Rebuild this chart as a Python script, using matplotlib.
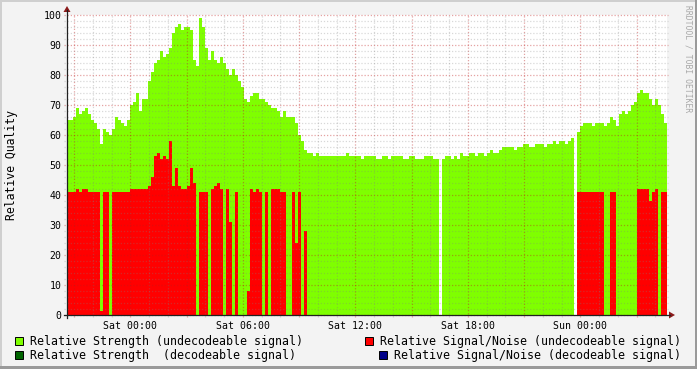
import numpy as np
import matplotlib
matplotlib.use("Agg")
import matplotlib.pyplot as plt
from matplotlib.patches import Rectangle, Polygon
from matplotlib.lines import Line2D

# time axis: hours relative to Sat 00:00, one sample every 0.16 h
START_HOUR = -3.375
STEP_HOURS = 0.16

TICK_HOURS = [0, 6, 12, 18, 24]
TICK_LABELS = ["Sat 00:00", "Sat 06:00", "Sat 12:00", "Sat 18:00", "Sun 00:00"]

strength_undecodeable = [
    65, 65, 66, 69, 67, 68, 69, 67, 65, 64,
    62, 57, 62, 61, 60, 62, 66, 65, 64, 63,
    65, 70, 71, 74, 68, 72, 72, 78, 81, 84,
    85, 88, 86, 87, 89, 94, 96, 97, 95, 96,
    96, 95, 85, 83, 99, 96, 89, 85, 88, 85,
    84, 86, 84, 82, 80, 82, 80, 78, 76, 72,
    71, 73, 74, 74, 72, 72, 71, 70, 69, 69,
    68, 66, 68, 66, 66, 66, 64, 60, 58, 55,
    54, 54, 53, 54, 53, 53, 53, 53, 53, 53,
    53, 53, 53, 54, 53, 53, 53, 53, 52, 53,
    53, 53, 53, 52, 52, 53, 53, 52, 53, 53,
    53, 53, 52, 52, 53, 53, 52, 52, 52, 53,
    53, 53, 52, 52, 0, 52, 53, 53, 52, 53,
    52, 54, 53, 53, 54, 54, 53, 54, 54, 53,
    54, 55, 54, 54, 55, 56, 56, 56, 56, 55,
    56, 56, 57, 57, 56, 56, 57, 57, 57, 56,
    57, 57, 58, 57, 58, 58, 57, 58, 59, 0,
    61, 63, 64, 64, 64, 63, 64, 64, 64, 63,
    64, 66, 65, 63, 67, 68, 67, 68, 70, 71,
    74, 75, 74, 74, 72, 70, 72, 70, 67, 64,
]

snr_undecodeable = [
    41, 41, 41, 42, 41, 42, 42, 41, 41, 41,
    41, 1.5, 41, 41, 0, 41, 41, 41, 41, 41,
    41, 42, 42, 42, 42, 42, 42, 43, 46, 53,
    54, 52, 53, 52, 58, 43, 49, 43, 42, 42,
    43, 49, 44, 0, 41, 41, 41, 0, 42, 43,
    44, 42, 0, 42, 31, 0, 41, 0, 0, 0,
    8, 42, 41, 42, 41, 0, 41, 0, 42, 42,
    42, 41, 41, 0, 0, 41, 24, 41, 0, 28,
    0, 0, 0, 0, 0, 0, 0, 0, 0, 0,
    0, 0, 0, 0, 0, 0, 0, 0, 0, 0,
    0, 0, 0, 0, 0, 0, 0, 0, 0, 0,
    0, 0, 0, 0, 0, 0, 0, 0, 0, 0,
    0, 0, 0, 0, 0, 0, 0, 0, 0, 0,
    0, 0, 0, 0, 0, 0, 0, 0, 0, 0,
    0, 0, 0, 0, 0, 0, 0, 0, 0, 0,
    0, 0, 0, 0, 0, 0, 0, 0, 0, 0,
    0, 0, 0, 0, 0, 0, 0, 0, 0, 0,
    41, 41, 41, 41, 41, 41, 41, 41, 41, 0,
    0, 41, 41, 0, 0, 0, 0, 0, 0, 0,
    42, 42, 42, 42, 38, 41, 42, 0, 41, 41,
]

W, H = 697, 369
GREEN = "#7FFF00"
RED = "#FF0000"
DARK_GREEN = "#006400"
NAVY = "#000088"
GRID = (0.5, 0.5, 0.5, 0.3)
MGRID = (0.75, 0.1, 0.1, 0.4)
ARROW = "#8B1A1A"
MONO = "DejaVu Sans Mono"


def fx(px):
    return px / W


def fy(py):
    return 1 - py / H


fig = plt.figure(figsize=(W / 100, H / 100), dpi=100, facecolor="#F3F3F3")

# 3d-ish frame around the canvas
frame = [
    ((0, fy(2)), 1, 2 / H, "#CFCFCF"),
    ((0, 0), 2 / W, 1, "#CFCFCF"),
    ((0, 0), 1, 3 / H, "#9A9A9A"),
    ((fx(695), 0), 2 / W, 1, "#9A9A9A"),
]
for xy, w, h, c in frame:
    fig.add_artist(Rectangle(xy, w, h, transform=fig.transFigure, color=c, lw=0, zorder=0))

ax = fig.add_axes([fx(67), fy(315), 600 / W, 300 / H])
ax.set_facecolor("white")
for spine in ax.spines.values():
    spine.set_visible(False)

n = len(strength_undecodeable)
edges = START_HOUR + STEP_HOURS * np.arange(n + 1)
x_end = edges[-1]

ax.stairs(strength_undecodeable, edges, fill=True, color=GREEN, lw=0, zorder=1)
ax.stairs(snr_undecodeable, edges, fill=True, color=RED, lw=0, zorder=2)

ax.set_xlim(START_HOUR, x_end)
ax.set_ylim(0, 100)

# grid drawn over the areas, rrdtool style
dots = (0, (1, 1.5))
for h in range(-3, 29):
    col = MGRID if h % 3 == 0 else GRID
    ax.vlines(h, -0.8, 100, colors=[col], linestyles=[dots], lw=0.9, clip_on=False, zorder=3)
for v in range(0, 101, 2):
    col = MGRID if v % 10 == 0 else GRID
    ax.hlines(v, START_HOUR - 0.16, x_end + 0.05, colors=[col], linestyles=[dots], lw=0.9,
              clip_on=False, zorder=3)

ax.set_xticks(TICK_HOURS, labels=TICK_LABELS)
ax.set_yticks(range(0, 101, 10))
ax.tick_params(axis="x", length=0, pad=4, labelsize=7.1)
ax.tick_params(axis="y", length=0, pad=4, labelsize=7.1)
for lbl in ax.get_xticklabels() + ax.get_yticklabels():
    lbl.set_fontfamily(MONO)

ax.set_ylabel("Relative Quality", fontsize=8.3, fontfamily=MONO)
ax.yaxis.set_label_coords((18 - 67) / 600, 0.5)

# axis lines with arrow heads
fig.add_artist(Line2D([fx(64), fx(670)], [fy(315), fy(315)], transform=fig.transFigure, color="#202020", lw=0.9))
fig.add_artist(Line2D([fx(67), fx(67)], [fy(318), fy(10)], transform=fig.transFigure, color="#202020", lw=0.9))
fig.add_artist(Polygon([(fx(669), fy(311.5)), (fx(669), fy(318.5)), (fx(675), fy(315))],
                       closed=True, transform=fig.transFigure, color=ARROW, lw=0))
fig.add_artist(Polygon([(fx(63.5), fy(12)), (fx(70.5), fy(12)), (fx(67), fy(6))],
                       closed=True, transform=fig.transFigure, color=ARROW, lw=0))

# legend
legend_items = [
    (15, 341, GREEN, "Relative Strength (undecodeable signal)"),
    (365, 341, RED, "Relative Signal/Noise (undecodeable signal)"),
    (15, 355, DARK_GREEN, "Relative Strength  (decodeable signal)"),
    (379, 355, NAVY, "Relative Signal/Noise (decodeable signal)"),
]
for x, y, color, text in legend_items:
    fig.add_artist(Rectangle((fx(x), fy(y + 4)), 8 / W, 8 / H, transform=fig.transFigure,
                             facecolor=color, edgecolor="black", lw=0.7))
    fig.text(fx(x + 15), fy(y), text, fontsize=8.4, fontfamily=MONO, ha="left", va="center")

fig.text(fx(688), fy(5), "RRDTOOL / TOBI OETIKER", rotation=270, ha="center", va="top",
         fontsize=5.8, fontfamily=MONO, color="#A8A8A8")

fig.savefig("out.png", dpi=100, facecolor=fig.get_facecolor())
